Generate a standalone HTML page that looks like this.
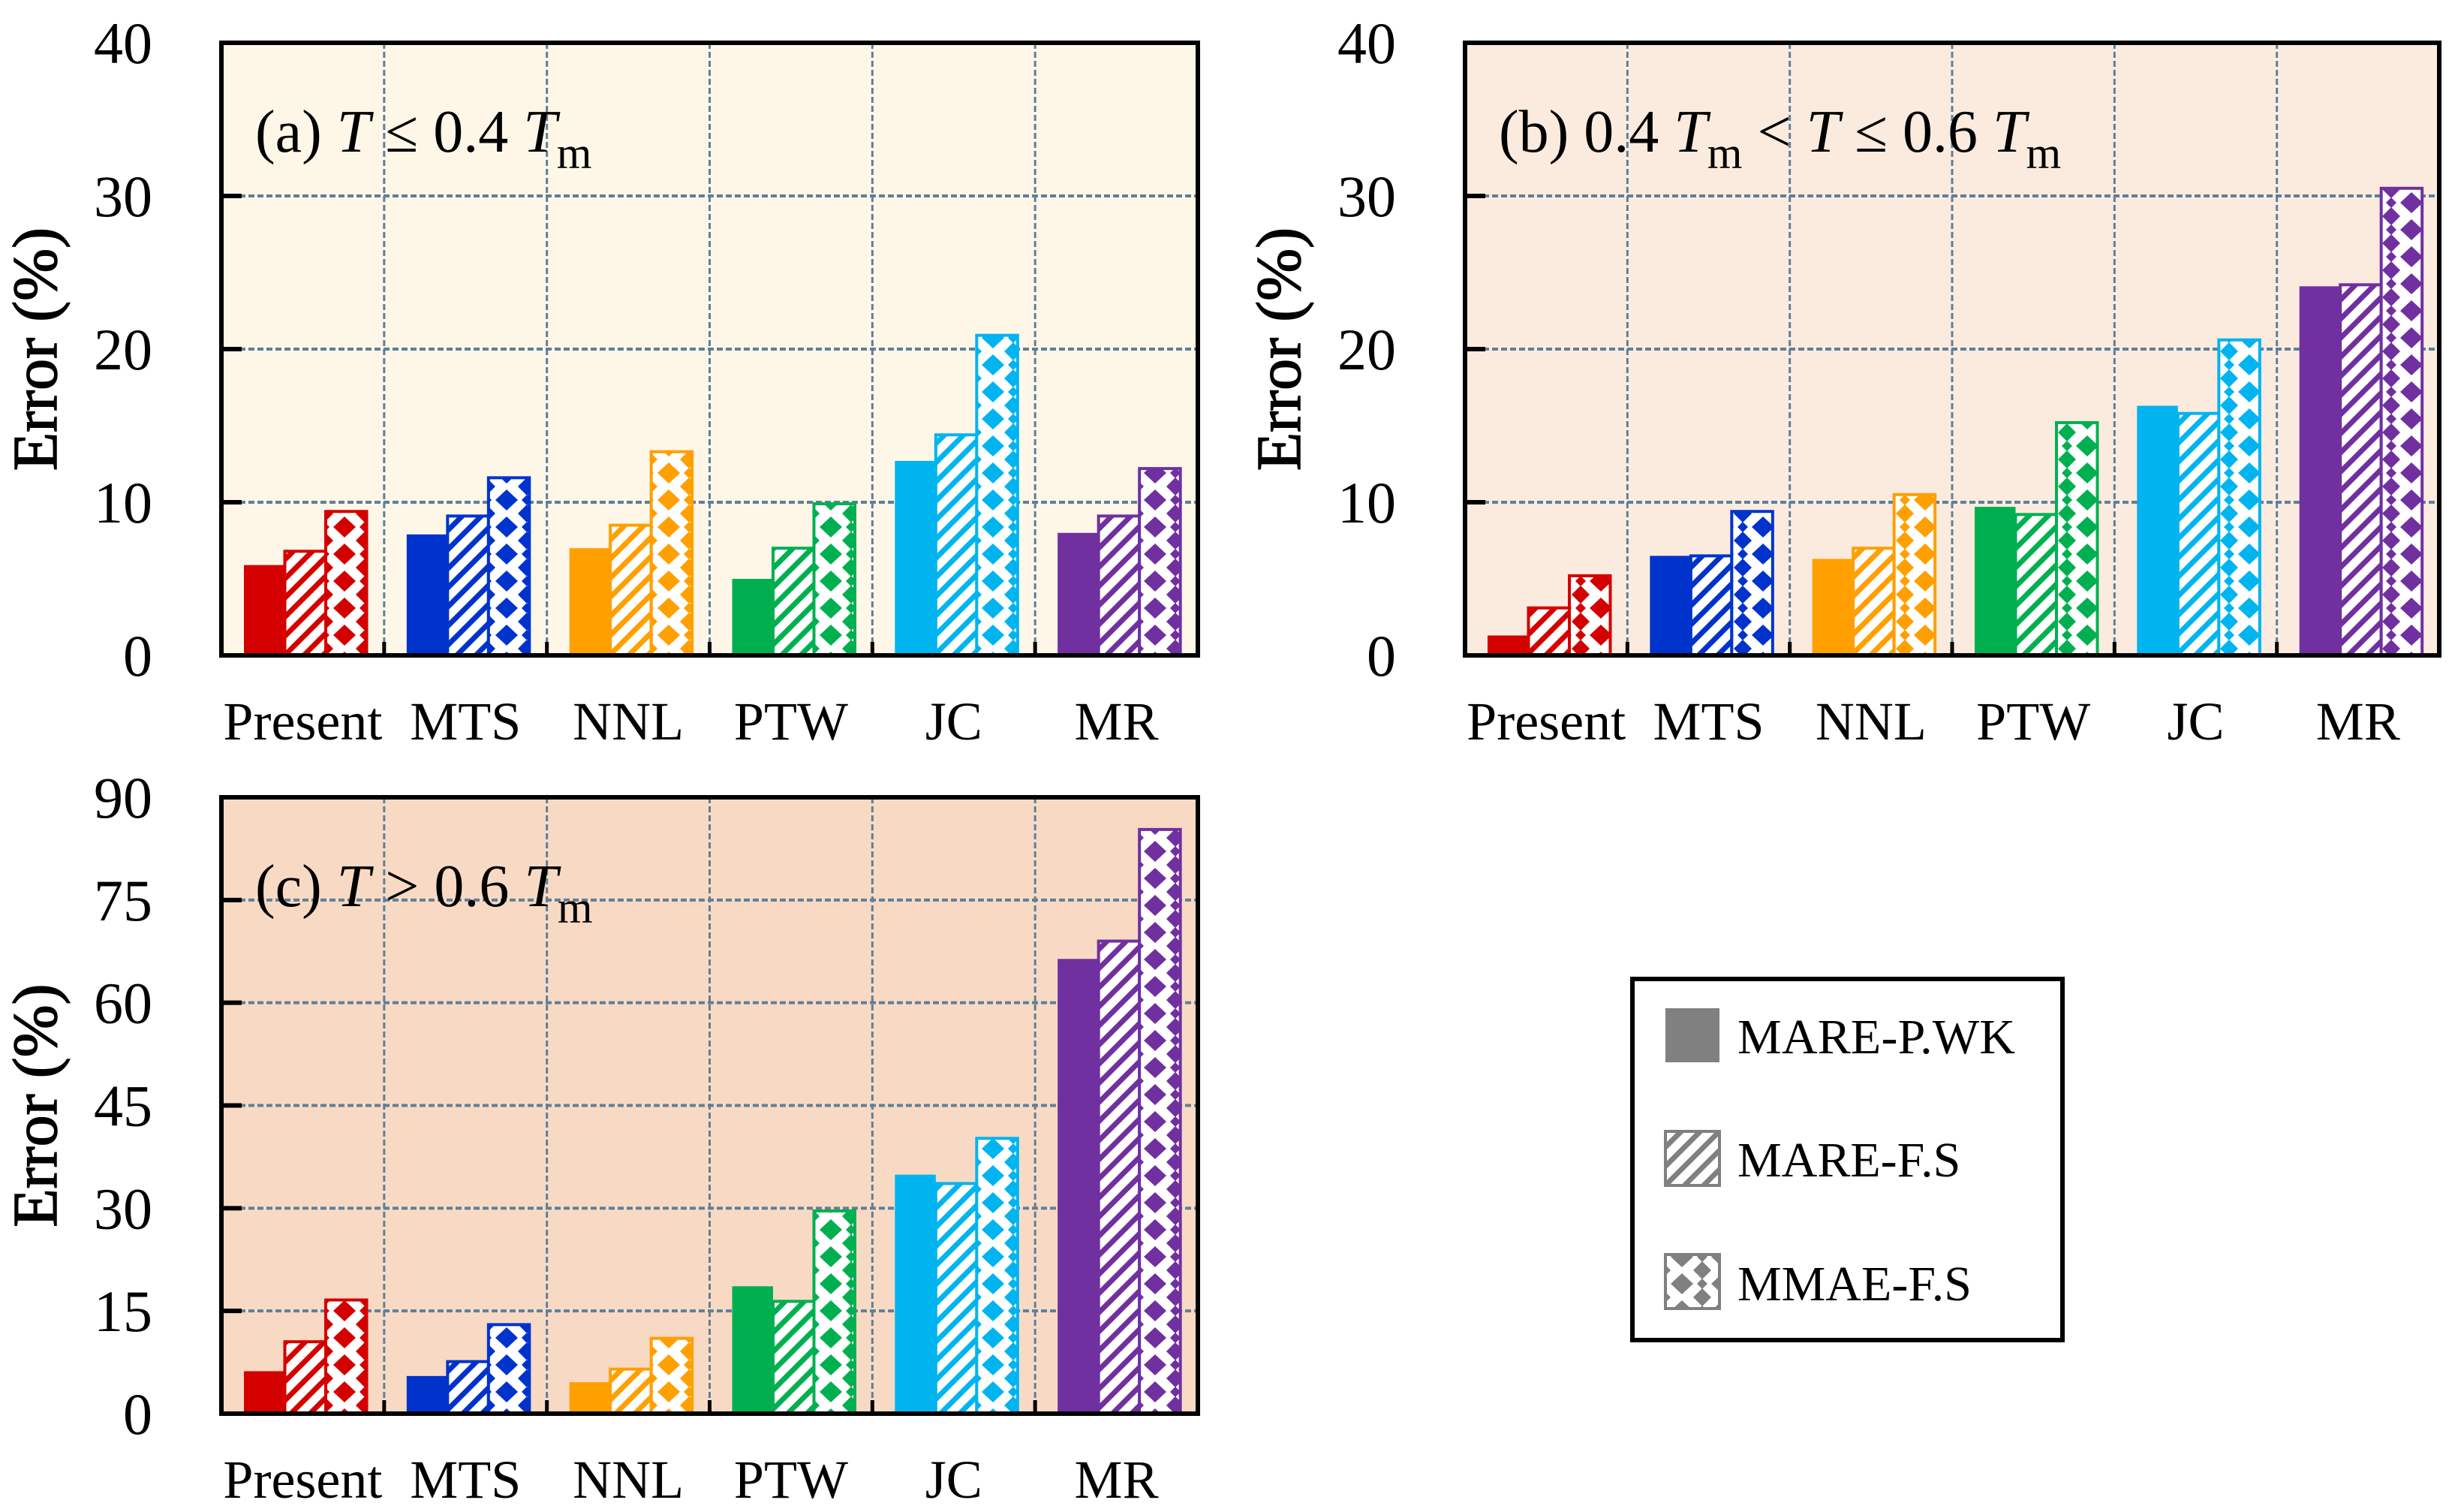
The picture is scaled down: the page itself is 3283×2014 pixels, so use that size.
<!DOCTYPE html>
<html><head><meta charset="utf-8">
<style>
html,body{margin:0;padding:0;background:#fff;}
svg{display:block;font-family:"Liberation Serif","Times New Roman",serif;}
</style></head>
<body>
<svg id="fig" width="3283" height="2014" viewBox="0 0 3283 2014" xmlns="http://www.w3.org/2000/svg">
<defs id="defs"></defs>
<g id="legend">
  <rect x="2175" y="1304" width="573" height="481" fill="#fff" stroke="#000" stroke-width="6"/>
  <g>
    <rect x="2219" y="1343" width="72" height="72" fill="#808080"/>
    <text x="2315" y="1403" font-size="66" textLength="370">MARE-P.WK</text>
  </g>
  <g>
    <rect x="2219" y="1507" width="72" height="72" fill="url(#hatch-legend)" stroke="#808080" stroke-width="4"/>
    <text x="2315" y="1567" font-size="66">MARE-F.S</text>
  </g>
  <g>
    <rect x="2219" y="1671" width="72" height="72" fill="url(#dia-legend)" stroke="#808080" stroke-width="4"/>
    <text x="2315" y="1732" font-size="66">MMAE-F.S</text>
  </g>
</g>
</svg>
<script>
const categories = ["Present","MTS","NNL","PTW","JC","MR"];
const seriesNames = ["MARE-P.WK","MARE-F.S","MMAE-F.S"];
const colors = ["#d40000","#0033cc","#ff9f00","#00b050","#00b4f0","#7030a0"];
// panel (a)
const aWK = [5.9,7.9,7.0,5.0,12.7,8.0];
const aFS = [6.8,9.1,8.5,7.0,14.4,9.1];
const aMM = [9.4,11.6,13.3,9.9,20.9,12.2];
const aTicks = [0,10,20,30,40];
// panel (b)
const bWK = [1.3,6.5,6.3,9.7,16.3,24.1];
const bFS = [3.1,6.5,7.0,9.2,15.8,24.2];
const bMM = [5.2,9.4,10.5,15.2,20.6,30.5];
const bTicks = [0,10,20,30,40];
// panel (c)
const cWK = [6.2,5.5,4.6,18.6,34.9,66.4];
const cFS = [10.5,7.6,6.5,16.4,33.6,69.0];
const cMM = [16.6,13.0,11.0,29.6,40.2,85.3];
const cTicks = [0,15,30,45,60,75,90];

const NS="http://www.w3.org/2000/svg";
const svg=document.getElementById('fig');
const defs=document.getElementById('defs');
function mk(tag,attrs,parent){const e=document.createElementNS(NS,tag);for(const k in attrs)e.setAttribute(k,attrs[k]);if(parent)parent.appendChild(e);return e;}

function makePatterns(id,col){
  const h=mk('pattern',{id:'hatch-'+id,patternUnits:'userSpaceOnUse',width:18,height:18,patternTransform:'rotate(45)'},defs);
  mk('rect',{x:0,y:0,width:18,height:18,fill:'#fff'},h);
  mk('rect',{x:0,y:0,width:7,height:18,fill:col},h);
  const d=mk('pattern',{id:'dia-'+id,patternUnits:'userSpaceOnUse',width:54,height:36},defs);
  mk('rect',{x:0,y:0,width:54,height:36,fill:'#fff'},d);
  mk('polygon',{points:'27,4 42,18 27,32 12,18',fill:col},d);
  mk('polygon',{points:'0,0 12,0 0,12',fill:col},d);
  mk('polygon',{points:'54,0 42,0 54,12',fill:col},d);
  mk('polygon',{points:'0,36 12,36 0,24',fill:col},d);
  mk('polygon',{points:'54,36 42,36 54,24',fill:col},d);
  mk('polygon',{points:'0,11 7,18 0,25',fill:col},d);
  mk('polygon',{points:'54,11 47,18 54,25',fill:col},d);
}
colors.forEach((c,i)=>makePatterns('c'+i,c));
makePatterns('legend','#808080');

function panel(name,x0,y0,x1,y1,bg,ticks,wk,fs,mm,titleParts){
  const g=mk('g',{},svg);
  
  
  const ymax=ticks[ticks.length-1];
  const ys=v=>y1-(v/ymax)*(y1-y0);
  const cw=(x1-x0)/categories.length;
  const bg1=mk('rect',{x:x0,y:y0,width:x1-x0,height:y1-y0,fill:bg},g);
  
  
  ticks.forEach((t,i)=>{
    if(i===0||i===ticks.length-1)return;
    const l=mk('line',{x1:x0,x2:x1,y1:ys(t),y2:ys(t),stroke:'#5f7f99','stroke-width':4,'stroke-dasharray':'8 4'},g);
    
    
  });
  for(let i=1;i<categories.length;i++){
    const x=x0+i*cw;
    const l=mk('line',{x1:x,x2:x,y1:y0,y2:y1,stroke:'#5f7f99','stroke-width':3,'stroke-dasharray':'8 4'},g);
    
    
  }
  const bw=54.5;
  categories.forEach((c,i)=>{
    const cx=x0+i*cw+30;
    const vals=[wk[i],fs[i],mm[i]];
    vals.forEach((v,s)=>{
      const bx=cx+s*bw;
      const by=ys(v);
      let fill=colors[i];
      if(s===1)fill='url(#hatch-c'+i+')';
      if(s===2)fill='url(#dia-c'+i+')';
      const r=mk('rect',{x:bx,y:by,width:bw,height:y1-by,fill:fill},g);
      if(s>0){r.setAttribute('stroke',colors[i]);r.setAttribute('stroke-width',4);}
      
      
    });
    const t=mk('text',{x:x0+i*cw+cw/2,y:y1+112,'font-size':72,'text-anchor':'middle'},g);
    t.textContent=c;
    
    
    if(i>0){
      const tk=mk('line',{x1:x0+i*cw,x2:x0+i*cw,y1:y1,y2:y1-18,stroke:'#000','stroke-width':5},g);
      
      
    }
  });
  ticks.forEach(t=>{
    const tk=mk('line',{x1:x0,x2:x0+27,y1:ys(t),y2:ys(t),stroke:'#000','stroke-width':6},g);
    
    
    const lb=mk('text',{x:x0-92,y:ys(t)+27,'font-size':78,'text-anchor':'end'},g);
    lb.textContent=t;
    
    
  });
  const fr=mk('rect',{x:x0,y:y0,width:x1-x0,height:y1-y0,fill:'none',stroke:'#000','stroke-width':6},g);
  
  
  const yt=mk('text',{x:0,y:0,'font-size':84,'text-anchor':'middle',stroke:'#000','stroke-width':1.5,transform:'translate('+(x0-220)+','+((y0+y1)/2)+') rotate(-90)'},g);
  yt.textContent='Error (%)';
  
  
  const tt=mk('text',{x:x0+45,y:y0+145,'font-size':80},g);
  
  
  titleParts.forEach(p=>{
    const s=mk('tspan',{},tt);
    if(p[1]==='i')s.setAttribute('font-style','italic');
    if(p[1]==='sub'){s.setAttribute('font-size','60');s.setAttribute('dy','22');}
    if(p[1]==='up'){s.setAttribute('dy','-22');}
    s.textContent=p[0];
  });
}
panel('a',295,57,1596,873,'#fef7e8',aTicks,aWK,aFS,aMM,
  [['(a) ',''],['T','i'],[' \u2264 0.4 ',''],['T','i'],['m','sub']]);
panel('b',1952,57,3250,873,'#fbebdf',bTicks,bWK,bFS,bMM,
  [['(b) 0.4 ',''],['T','i'],['m','sub'],[' < ','up'],['T','i'],[' \u2264 0.6 ',''],['T','i'],['m','sub']]);
panel('c',295,1062,1596,1883,'#f8dac4',cTicks,cWK,cFS,cMM,
  [['(c) ',''],['T','i'],[' > 0.6 ',''],['T','i'],['m','sub']]);
svg.appendChild(document.getElementById('legend'));
</script>
</body></html>
